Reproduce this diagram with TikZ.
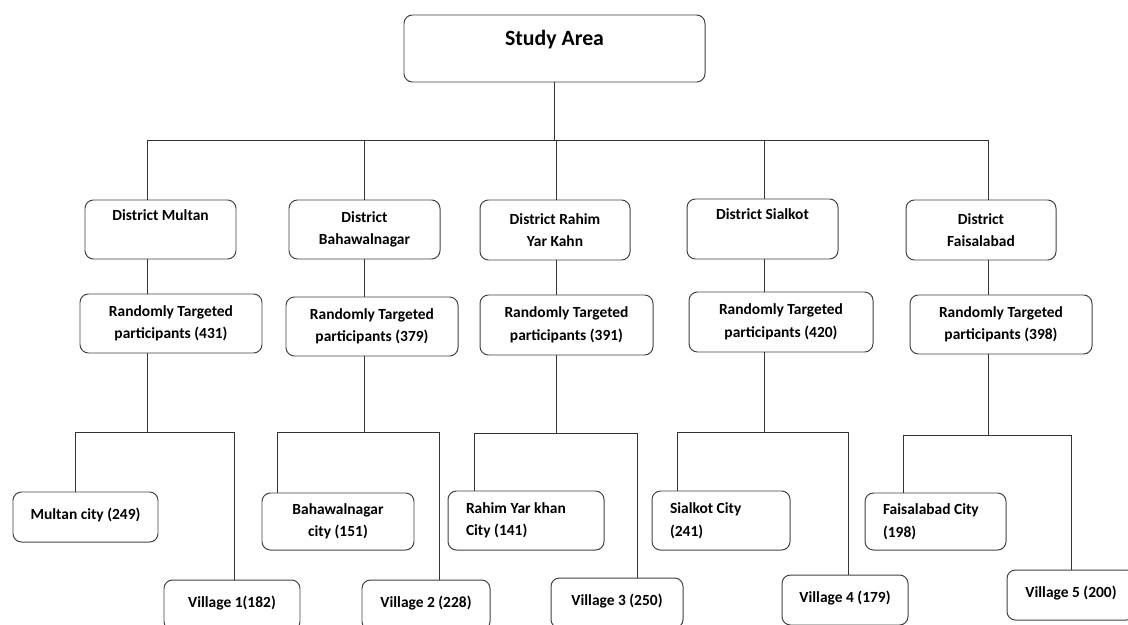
\documentclass[tikz,border=0pt]{standalone}
\usepackage{fontspec}
\setmainfont{Carlito}
\usepackage{tikz}
\newcommand\pxu{0.025cm}

\begin{document}
\begin{tikzpicture}[x=\pxu, y=-\pxu,
  box/.style={draw=black!75, line width=0.7pt, rounded corners=6pt, align=center,
    inner sep=0pt, font=\fontsize{11}{16}\selectfont\bfseries},
  leftbox/.style={box, align=flush left},
  onebox/.style={box, text depth=5pt},
  link/.style={black!80, line width=0.7pt}]
\clip (0,0) rectangle (1128,624);

\node[box, minimum width=301*\pxu, minimum height=67*\pxu, text depth=15pt,
  font=\fontsize{15.5}{18}\selectfont\bfseries] (study) at (554.5,48.5) {Study Area};

% districts
\node[box, minimum width=151*\pxu, minimum height=59*\pxu] (dm) at (160.5,229.5) {District Multan\\ \strut};
\node[box, minimum width=151*\pxu, minimum height=59*\pxu] (db) at (364.5,229.5) {District\\Bahawalnagar};
\node[box, minimum width=150*\pxu, minimum height=60*\pxu] (dr) at (555,230) {District Rahim\\Yar Kahn};
\node[box, minimum width=151*\pxu, minimum height=60*\pxu] (ds) at (762.5,229) {District Sialkot\\ \strut};
\node[box, minimum width=150*\pxu, minimum height=60*\pxu] (df) at (981,230) {District\\Faisalabad};

% participants
\node[box, minimum width=182*\pxu, minimum height=59*\pxu] (pm) at (171,323.5) {Randomly Targeted\\participants (431)};
\node[box, minimum width=172*\pxu, minimum height=59*\pxu] (pb) at (372,326.5) {Randomly Targeted\\participants (379)};
\node[box, minimum width=173*\pxu, minimum height=60*\pxu] (pr) at (566.5,325) {Randomly Targeted\\participants (391)};
\node[box, minimum width=184*\pxu, minimum height=60*\pxu] (ps) at (781,322) {Randomly Targeted\\participants (420)};
\node[box, minimum width=182*\pxu, minimum height=59*\pxu] (pf) at (1001,324.5) {Randomly Targeted\\participants (398)};

% cities
\node[onebox, minimum width=145*\pxu, minimum height=50*\pxu] (cm) at (85.5,517) {Multan city (249)};
\node[box, minimum width=152*\pxu, minimum height=57*\pxu] (cb) at (338,521.5) {Bahawalnagar\\city (151)};
\node[leftbox, text width=120*\pxu, minimum width=156*\pxu, minimum height=59*\pxu] (cr) at (526,520.5) {Rahim Yar khan\\City (141)};
\node[leftbox, text width=102*\pxu, minimum width=138*\pxu, minimum height=59*\pxu] (cs) at (721,520.5) {Sialkot City\\(241)};
\node[leftbox, text width=105*\pxu, minimum width=141*\pxu, minimum height=57*\pxu] (cf) at (935.5,521.5) {Faisalabad City\\(198)};

% villages
\node[onebox, minimum width=136*\pxu, minimum height=50*\pxu] (vm) at (232,605) {Village 1(182)};
\node[onebox, minimum width=128*\pxu, minimum height=50*\pxu] (vb) at (426,605) {Village 2 (228)};
\node[onebox, minimum width=132*\pxu, minimum height=50*\pxu] (vr) at (617,603) {Village 3 (250)};
\node[onebox, minimum width=126*\pxu, minimum height=50*\pxu] (vs) at (845,600) {Village 4 (179)};
\node[onebox, minimum width=128*\pxu, minimum height=50*\pxu] (vf) at (1071,595) {Village 5 (200)};

\coordinate (bus) at (0,140);
\foreach \c/\l/\k/\r/\y in {m/75/147/234/432, b/277/364/439/432, r/474/556/637/433,
    s/677/764/848/432, f/903/988/1071/435} {
  \coordinate (l\c) at (\l,\y);
  \coordinate (k\c) at (\k,\y);
  \coordinate (r\c) at (\r,\y);
}

\draw[link] (study.south) -- (study.south |- bus);
\draw[link] (bus -| km) -- (bus -| kf);
\foreach \c in {m,b,r,s,f}
  \draw[link] (bus -| k\c) -- (d\c.north -| k\c)
    (d\c.south -| k\c) -- (p\c.north -| k\c)
    (p\c.south -| k\c) -- (k\c)
    (c\c.north -| l\c) -- (l\c) -- (r\c) -- (v\c.north -| r\c);
\end{tikzpicture}
\end{document}
